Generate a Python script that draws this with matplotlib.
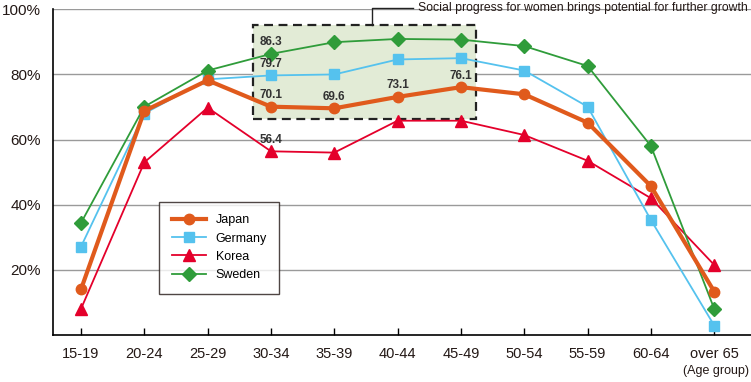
import matplotlib.pyplot as plt
from matplotlib.patches import Rectangle
import numpy as np

age_groups = ['15-19', '20-24', '25-29', '30-34', '35-39', '40-44',
              '45-49', '50-54', '55-59', '60-64', 'over 65']
japan = [14.0, 68.8, 78.2, 70.1, 69.6, 73.1, 76.1, 73.9, 65.2, 45.7, 13.3]
germany = [27.1, 68.0, 78.5, 79.7, 80.0, 84.6, 85.0, 81.2, 70.1, 35.3, 2.9]
korea = [8.0, 53.0, 69.8, 56.4, 56.0, 65.8, 65.8, 61.4, 53.5, 42.0, 21.5]
sweden = [34.4, 70.1, 81.2, 86.3, 89.9, 90.9, 90.7, 88.7, 82.6, 58.0, 8.0]
yticks = [20, 40, 60, 80, 100]

plt.rcParams['font.family'] = ['Liberation Sans', 'DejaVu Sans']

fig = plt.figure(figsize=(7.51, 3.82), dpi=100)
ax = fig.add_axes([53.3 / 751, 47 / 382, 697.7 / 751, 325.7 / 382])
x = np.arange(len(age_groups))

# highlighted region behind the lines
ax.add_patch(Rectangle((2.72, 66.3), 3.52, 28.9, facecolor='#e2ebd6',
                       edgecolor='#222222', linestyle=(0, (4, 2.5)),
                       linewidth=1.6, zorder=1))

ax.plot(x, korea, color='#e4002b', marker='^', markersize=8, linewidth=1.3,
        label='Korea', zorder=3)
ax.plot(x, germany, color='#55c2ee', marker='s', markersize=7.5, linewidth=1.3,
        label='Germany', zorder=3)
ax.plot(x, sweden, color='#2f9c3a', marker='D', markersize=7, linewidth=1.3,
        label='Sweden', zorder=4)
ax.plot(x, japan, color='#e05a1c', marker='o', markersize=7.5, linewidth=3,
        label='Japan', zorder=5)

# value labels
labels = [(3, sweden[3]), (3, germany[3]), (3, japan[3]), (4, japan[4]),
          (5, japan[5]), (6, japan[6]), (3, korea[3])]
for i, v in labels:
    ax.annotate(f'{v:.1f}', (i, v), xytext=(0, 4), textcoords='offset points',
                ha='center', va='bottom', fontsize=8.5, fontweight='bold',
                color='#333333', zorder=6)

ax.set_xlim(-0.437, 10.58)
ax.set_ylim(0, 100)
ax.set_yticks(yticks)
ax.set_yticklabels([f'{t}%' for t in yticks], fontsize=11, color='#231815')
ax.yaxis.grid(True, color='#9a9a9a', linewidth=1)
ax.set_axisbelow(True)
ax.tick_params(axis='y', length=0, pad=9)
ax.set_xticks(x)
ax.set_xticklabels(age_groups, fontsize=10.5, color='#231815')
ax.tick_params(axis='x', direction='in', length=5, width=1, pad=9)
for s in ['top', 'right']:
    ax.spines[s].set_visible(False)
ax.spines['left'].set_linewidth(1.2)
ax.spines['bottom'].set_linewidth(1.2)

ax.text(0.997, -0.093, '(Age group)', transform=ax.transAxes, ha='right',
        va='top', fontsize=9, color='#231815')

# bracket pointing to the highlighted region
ax.plot([4.6, 4.6, 5.24], [95.2, 100.4, 100.4], color='#222222',
        linewidth=1, clip_on=False)
ax.text(5.32, 100.4, 'Social progress for women brings potential for further growth',
        va='center', ha='left', fontsize=8.8, color='#231815')

handles, names = ax.get_legend_handles_labels()
order = [names.index(n) for n in ['Japan', 'Germany', 'Korea', 'Sweden']]
leg = ax.legend([handles[i] for i in order], [names[i] for i in order],
                loc='upper left', bbox_to_anchor=(0.152, 0.409), fontsize=9,
                frameon=True, fancybox=False, handlelength=2.7,
                borderpad=1.0, labelspacing=0.5, borderaxespad=0)
leg.get_frame().set_edgecolor('#231815')
leg.get_frame().set_linewidth(1)

fig.savefig('out.png', dpi=100)
